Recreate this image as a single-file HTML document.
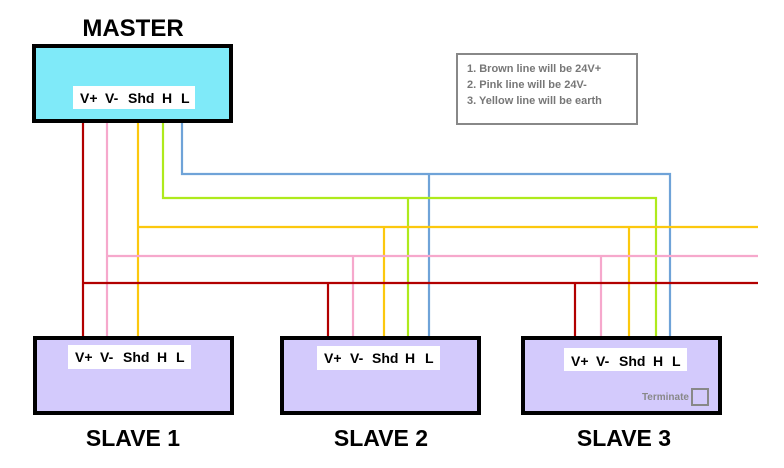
<!DOCTYPE html>
<html><head><style>body{margin:0;background:#fff}svg{display:block}</style></head><body>
<svg width="784" height="468" viewBox="0 0 784 468" xmlns="http://www.w3.org/2000/svg" font-family="Liberation Sans, Arial, sans-serif">
<rect width="784" height="468" fill="#fff"/>
<g fill="none" stroke-width="2.2">
<path d="M182 122V174H670V336M429 174V336" stroke="#6fa3d8"/>
<path d="M163 122V198H656V336M408 198V336" stroke="#aeea1c"/>
<path d="M138 122V336M138 227H758M384 227V336M629 227V336" stroke="#fcc80e"/>
<path d="M107 122V336M107 256H758M353 256V336M601 256V336" stroke="#f6a8cc"/>
<path d="M83 122V336M83 283H758M328 283V336M575 283V336" stroke="#b20000"/>
</g>
<rect x="34" y="46" width="197" height="75" fill="#7feaf9" stroke="#000" stroke-width="4"/>
<rect x="73" y="86" width="122" height="23" fill="#fff"/>
<g font-size="14" font-weight="bold" fill="#000">
<text x="80" y="103">V+</text><text x="105" y="103">V-</text><text x="128" y="103">Shd</text><text x="162" y="103">H</text><text x="181" y="103">L</text>
</g>
<text x="133" y="36" text-anchor="middle" font-size="24" font-weight="bold">MASTER</text>
<g stroke="#000" stroke-width="4" fill="#d3cafc">
<rect x="35" y="338" width="197" height="75"/>
<rect x="282" y="338" width="197" height="75"/>
<rect x="523" y="338" width="197" height="75"/>
</g>
<g fill="#fff"><rect x="68" y="345" width="123" height="24"/><rect x="317" y="346" width="123" height="24"/><rect x="564" y="348" width="123" height="23"/></g>
<g font-size="14" font-weight="bold">
<text x="75" y="362">V+</text><text x="100" y="362">V-</text><text x="123" y="362">Shd</text><text x="157" y="362">H</text><text x="176" y="362">L</text>
<text x="324" y="363">V+</text><text x="350" y="363">V-</text><text x="372" y="363">Shd</text><text x="405" y="363">H</text><text x="425" y="363">L</text>
<text x="571" y="366">V+</text><text x="596" y="366">V-</text><text x="619" y="366">Shd</text><text x="653" y="366">H</text><text x="672" y="366">L</text>
</g>
<text x="689" y="400" text-anchor="end" font-size="10" fill="#888" font-weight="bold">Terminate</text>
<rect x="692" y="389" width="16" height="16" fill="none" stroke="#888" stroke-width="2"/>
<g font-size="23" font-weight="bold" text-anchor="middle">
<text x="133" y="446">SLAVE 1</text>
<text x="381" y="446">SLAVE 2</text>
<text x="624" y="446">SLAVE 3</text>
</g>
<rect x="457" y="54" width="180" height="70" fill="#fff" stroke="#888" stroke-width="2"/>
<g font-size="11" fill="#777" font-weight="bold">
<text x="467" y="72">1. Brown line will be 24V+</text>
<text x="467" y="88">2. Pink line will be 24V-</text>
<text x="467" y="104">3. Yellow line will be earth</text>
</g>
</svg>
</body></html>
